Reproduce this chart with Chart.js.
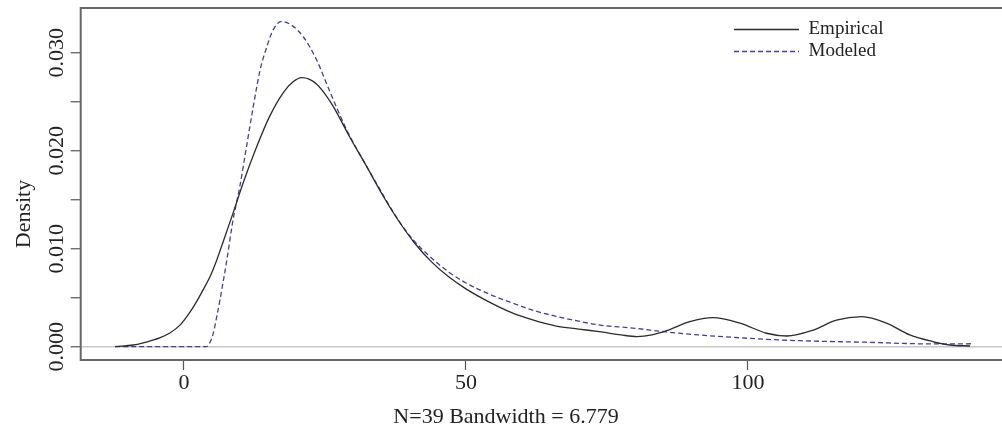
<!DOCTYPE html>
<html>
<head>
<meta charset="utf-8">
<script src="https://cdn.jsdelivr.net/npm/chart.js@4/dist/chart.umd.min.js"></script>
<style>
  html, body { margin: 0; padding: 0; background: #fff; overflow: hidden; }
  #wrap { width: 1012px; height: 428px; position: relative; }
</style>
</head>
<body>
<div id="wrap"><canvas id="c"></canvas></div>
<script>
// ---- data ----
const empX = [-12.2, -9, -6.5, -4.3, -2.5, -0.7, 0.8, 2.25, 3.4, 4.6, 5.8, 6.9, 8.7, 10.5, 12.9, 15.2, 17.6, 19.3, 20.9, 22.2, 23.5, 25, 26.5, 29.4, 32.4, 35.3, 38, 41, 44, 47, 50, 54, 58, 62, 66, 70, 74, 77.5, 80.3, 83, 85.6, 89.7, 93.8, 98.6, 103.3, 106.9, 111.6, 115.7, 120.2, 124.6, 128.7, 132.9, 135.8, 139.4];
const empY = [0, 0.00017, 0.0005, 0.0009, 0.0014, 0.0022, 0.0033, 0.0046, 0.0058, 0.0071, 0.0088, 0.0106, 0.0136, 0.0167, 0.0204, 0.0235, 0.0259, 0.0270, 0.02745, 0.0273, 0.0268, 0.0258, 0.0245, 0.0214, 0.0184, 0.0154, 0.0129, 0.0105, 0.0086, 0.0071, 0.0059, 0.0046, 0.0035, 0.0027, 0.0021, 0.0018, 0.0015, 0.0012, 0.00102, 0.0012, 0.00163, 0.00255, 0.00296, 0.0024, 0.00137, 0.00109, 0.0017, 0.0027, 0.00306, 0.0024, 0.0012, 0.0005, 0.00017, 0.00007];
const modX = [-12.2, 4.0, 4.6, 5.2, 5.8, 6.4, 7.6, 8.7, 9.9, 11.1, 12.3, 13.5, 14.7, 15.8, 17.3, 19.1, 21.2, 23.5, 25.9, 28.8, 31.8, 34.8, 37.7, 40.5, 44, 47, 50, 54, 58, 62, 66, 70, 73.8, 79.6, 85.6, 91.5, 97.4, 103.3, 109.2, 121, 132.8, 140];
const modY = [0, 0, 0.0004, 0.00136, 0.003, 0.0048, 0.0088, 0.0129, 0.0163, 0.0204, 0.0245, 0.0282, 0.0306, 0.0323, 0.0332, 0.0328, 0.0316, 0.0293, 0.0260, 0.0222, 0.0190, 0.0160, 0.0132, 0.0110, 0.0090, 0.0076, 0.0065, 0.0054, 0.0045, 0.0037, 0.0031, 0.0026, 0.0022, 0.0019, 0.0015, 0.00119, 0.00095, 0.00075, 0.00061, 0.00045, 0.00028, 0.0003];
const seriesNames = ['Empirical', 'Modeled'];
const xTicks = [0, 50, 100];
const yTicks = [0, 0.005, 0.010, 0.015, 0.020, 0.025, 0.030];
const xTitle = 'N=39 Bandwidth = 6.779';
const yTitle = 'Density';

const FONT = "'Liberation Serif', 'Times New Roman', serif";
const toPts = (xs, ys) => xs.map((x, i) => ({ x: x, y: ys[i] }));

const framePlugin = {
  id: 'frame',
  afterLayout(chart) {
    const lg = chart.legend;
    if (lg) { lg.left = 731; lg.top = 17; }
  },
  afterDraw(chart) {
    const { ctx, chartArea: a } = chart;
    ctx.save();
    ctx.strokeStyle = '#666';
    ctx.lineWidth = 2;
    ctx.strokeRect(a.left, a.top, a.right - a.left, a.bottom - a.top);
    ctx.fillStyle = '#222';
    ctx.font = '22px ' + FONT;
    ctx.textAlign = 'center';
    ctx.textBaseline = 'alphabetic';
    ctx.fillText(xTitle, 506, 423);
    ctx.translate(24, 214);
    ctx.rotate(-Math.PI / 2);
    ctx.textBaseline = 'middle';
    ctx.fillText(yTitle, 0, 0);
    ctx.restore();
  }
};

new Chart(document.getElementById('c'), {
  type: 'line',
  data: {
    datasets: [
      {
        label: seriesNames[0],
        data: toPts(empX, empY),
        borderColor: '#2b2b2b',
        backgroundColor: '#2b2b2b',
        borderWidth: 1.3,
        pointRadius: 0,
        cubicInterpolationMode: 'monotone',
        fill: false
      },
      {
        label: seriesNames[1],
        data: toPts(modX, modY),
        borderColor: '#3f3fa0',
        backgroundColor: '#3f3fa0',
        borderWidth: 1.3,
        borderDash: [5, 3],
        pointRadius: 0,
        cubicInterpolationMode: 'monotone',
        fill: false
      }
    ]
  },
  options: {
    responsive: true,
    maintainAspectRatio: false,
    animation: false,
    layout: { padding: { top: 8, right: 3, left: 0, bottom: 0 } },
    plugins: {
      legend: {
        position: 'chartArea',
        align: 'start',
        labels: {
          usePointStyle: true,
          pointStyle: 'line',
          pointStyleWidth: 65,
          boxHeight: 19,
          padding: 3,
          color: '#222',
          font: { family: FONT, size: 19 },
          generateLabels: chart => {
            const items = Chart.defaults.plugins.legend.labels.generateLabels(chart);
            items.forEach(it => {
              const ds = chart.data.datasets[it.datasetIndex];
              it.lineDash = ds.borderDash || [];
              it.strokeStyle = ds.borderColor;
              it.lineWidth = ds.borderWidth;
              it.pointStyle = 'line';
            });
            return items;
          }
        }
      },
      tooltip: { enabled: false }
    },
    scales: {
      x: {
        type: 'linear',
        min: -18.3,
        max: 146.3,
        afterBuildTicks: s => { s.ticks = xTicks.map(v => ({ value: v })); },
        afterFit: s => { s.height = 68; },
        border: { display: false },
        grid: { drawOnChartArea: false, drawTicks: true, tickLength: 10, tickColor: '#555', tickWidth: 1.2 },
        ticks: { padding: 0, color: '#222', font: { family: FONT, size: 22 }, maxRotation: 0, minRotation: 0 }
      },
      y: {
        type: 'linear',
        min: -0.00136,
        max: 0.03456,
        afterBuildTicks: s => { s.ticks = yTicks.map(v => ({ value: v })); },
        afterFit: s => { s.width = 80.7; },
        border: { display: false },
        grid: {
          drawOnChartArea: true,
          drawTicks: true,
          tickLength: 10,
          tickColor: '#555',
          tickWidth: 1.2,
          lineWidth: 1.5,
          color: c => (c.tick && Math.abs(c.tick.value) < 1e-9) ? '#c8c8c8' : 'rgba(0,0,0,0)'
        },
        ticks: {
          color: '#222',
          font: { family: FONT, size: 22 },
          minRotation: 90,
          maxRotation: 90,
          crossAlign: 'center',
          padding: -11,
          callback: v => (Math.round(v * 1000) % 10 === 0) ? v.toFixed(3) : ''
        }
      }
    }
  },
  plugins: [framePlugin]
});
</script>
</body>
</html>
